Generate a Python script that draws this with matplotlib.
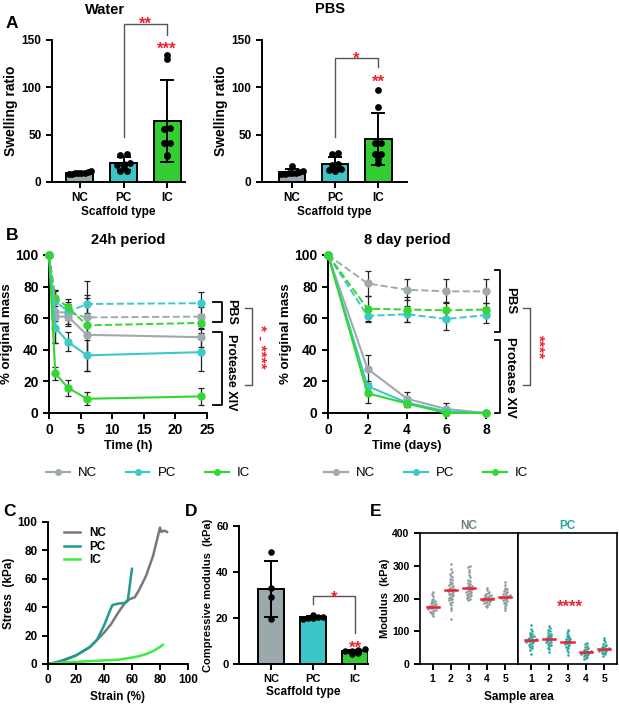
import numpy as np
import matplotlib
matplotlib.use("Agg")
import matplotlib.pyplot as plt
from matplotlib.lines import Line2D

plt.rcParams['font.family'] = ['Liberation Sans', 'DejaVu Sans']
plt.rcParams['font.weight'] = 'bold'
plt.rcParams['axes.labelweight'] = 'bold'
plt.rcParams['axes.titleweight'] = 'bold'
plt.rcParams['axes.linewidth'] = 1.4
plt.rcParams['xtick.major.width'] = 1.4
plt.rcParams['ytick.major.width'] = 1.4
plt.rcParams['xtick.major.size'] = 4
plt.rcParams['ytick.major.size'] = 4
plt.rcParams['xtick.labelsize'] = 8.5
plt.rcParams['ytick.labelsize'] = 8.5

# ---------------- data ----------------
groups = ['NC', 'PC', 'IC']

# A: swelling ratio (individual samples)
water_nc = [12, 11, 10, 10, 9, 9, 8, 8]
water_pc = [30, 29, 20, 19, 18, 17, 12, 12]
water_ic = [134, 130, 57, 56, 41, 41, 28, 27]
pbs_nc = [17, 12, 11, 10, 9, 9, 8, 8]
pbs_pc = [31, 30, 19, 18, 14, 13, 12, 14]
pbs_ic = [97, 79, 41, 41, 30, 30, 24, 20]

# B: mass loss, 24 h
t_24h = [0, 1, 3, 6, 24]
pbs24_nc = [100, 64, 63.5, 60.5, 61]
pbs24_pc = [100, 71, 64, 69, 69.5]
pbs24_ic = [100, 73, 67, 55.5, 57]
pro24_nc = [100, 61, 61, 49.5, 48]
pro24_pc = [100, 54, 45, 36.5, 38.5]
pro24_ic = [100, 25, 16, 9, 10.5]
pbs24_nc_err = [0, 6, 7, 23, 6]
pbs24_pc_err = [0, 6, 5, 6, 7]
pbs24_ic_err = [0, 5, 5, 4, 4]
pro24_nc_err = [0, 17, 6, 23, 6]
pro24_pc_err = [0, 10, 6, 10, 12]
pro24_ic_err = [0, 4, 5, 4, 5.5]

# B: mass loss, 8 days
t_8d = [0, 2, 4, 6, 8]
pbs8_nc = [100, 82, 78, 77, 77]
pbs8_pc = [100, 61.5, 62.5, 59.5, 62]
pbs8_ic = [100, 66, 65.5, 65, 65.5]
pro8_nc = [100, 28, 9, 2.5, 0]
pro8_pc = [100, 17, 6.5, 1, 0]
pro8_ic = [100, 12.5, 6, 0, 0]
pbs8_nc_err = [0, 8, 6.5, 7.5, 7.5]
pbs8_pc_err = [0, 4, 5, 7, 5]
pbs8_ic_err = [0, 8, 8, 5, 4]
pro8_nc_err = [0, 9, 4.5, 4, 0]
pro8_pc_err = [0, 3, 2, 1, 0]
pro8_ic_err = [0, 6, 2, 0.5, 0]

# C: stress-strain curves
strain_nc = [0, 5, 10, 20, 30, 40, 45, 50, 55, 58, 62, 65, 70, 75, 80, 81, 83, 85]
stress_nc = [0, 1, 2.5, 6, 12, 22, 28, 36, 43, 45.5, 47, 52, 62, 76, 96, 93, 94, 93]
strain_pc = [0, 5, 10, 20, 30, 35, 40, 44, 46, 50, 55, 57, 58, 59, 60]
stress_pc = [0, 0.8, 2, 6, 12, 17, 27, 37, 41.5, 42.5, 43, 45, 52, 60, 67]
strain_ic = [0, 10, 20, 30, 40, 50, 60, 65, 70, 75, 80, 82]
stress_ic = [0, 1, 1.5, 2, 2.5, 3, 4.5, 5.5, 7, 9, 12, 13.5]

# D: compressive modulus
mod_nc = [48.5, 33, 29, 19.5]
mod_pc = [21.5, 20.5, 20.5, 20, 20, 19.5]
mod_ic = [6.5, 6, 5.5, 5.5, 5, 4.5]

# E: local modulus per sample area
areas = [1, 2, 3, 4, 5]
e_nc = [
    [148, 152, 155, 158, 160, 162, 165, 166, 168, 170, 171, 172, 173, 174, 175, 175,
     176, 177, 178, 180, 182, 184, 186, 188, 190, 193, 196, 200, 208, 215, 220],
    [137, 165, 172, 180, 185, 190, 195, 198, 200, 203, 206, 208, 210, 213, 215, 218, 220,
     222, 224, 225, 226, 228, 230, 232, 235, 238, 240, 243, 246, 250, 255, 260, 265, 270,
     275, 280, 290, 305],
    [195, 200, 203, 206, 208, 210, 212, 215, 217, 219, 221, 223, 225, 227, 229, 231, 232,
     233, 235, 237, 239, 242, 245, 248, 252, 258, 265, 272, 280, 288, 295, 300],
    [175, 178, 181, 184, 186, 188, 190, 192, 193, 194, 195, 196, 197, 198, 199, 200, 200,
     201, 202, 203, 204, 205, 206, 208, 210, 212, 214, 217, 220, 225, 232],
    [165, 172, 178, 183, 187, 190, 193, 195, 197, 199, 201, 203, 204, 205, 206, 207, 209,
     211, 213, 215, 217, 219, 222, 225, 228, 232, 240, 250],
]
e_pc = [
    [30, 42, 48, 52, 56, 59, 62, 64, 66, 68, 69, 70, 71, 72, 73, 74, 75, 77, 79, 81, 83,
     85, 88, 91, 95, 100, 108, 118],
    [36, 45, 50, 55, 58, 61, 64, 66, 68, 70, 72, 74, 75, 76, 78, 80, 82, 84, 87, 90, 93,
     96, 100, 105, 110, 115],
    [26, 38, 44, 48, 52, 55, 58, 61, 63, 65, 67, 68, 69, 71, 73, 75, 77, 80, 83, 86, 90,
     95, 100, 105],
    [16, 19, 22, 24, 26, 28, 30, 32, 33, 34, 35, 36, 37, 38, 40, 42, 44, 46, 49, 52, 56,
     60, 65],
    [25, 30, 33, 35, 37, 39, 41, 42, 43, 44, 45, 46, 47, 49, 51, 53, 55, 58, 62, 66, 72, 80],
]

# ---------------- style ----------------
c_nc, c_pc, c_ic = '#9BA9AC', '#3CC5C6', '#33CC33'
bar_cols = [c_nc, c_pc, c_ic]
red = '#EE2233'

W, H = 619, 705
fig = plt.figure(figsize=(W / 100, H / 100), dpi=100)


def px_axes(l, t, r, b):
    return fig.add_axes([l / W, 1 - b / H, (r - l) / W, (b - t) / H])


def swarm_x(vals, center, binw, step, maxhalf):
    # spread points sharing a value bin symmetrically around the center
    vals = np.asarray(vals, dtype=float)
    xs = np.full(len(vals), float(center))
    bins = np.round(vals / binw).astype(int)
    for b in np.unique(bins):
        idx = np.where(bins == b)[0]
        idx = idx[np.argsort(vals[idx])]
        n = len(idx)
        st = step if n < 2 else min(step, 2 * maxhalf / (n - 1))
        xs[idx] = center + (np.arange(n) - (n - 1) / 2) * st
    return xs


def clean(ax):
    ax.spines['top'].set_visible(False)
    ax.spines['right'].set_visible(False)


def bar_panel(ax, data, binw, step=0.14, width=0.62, ms=24):
    for i, vals in enumerate(data):
        m = np.mean(vals)
        s = np.std(vals, ddof=1)
        ax.bar(i, m, width=width, color=bar_cols[i], edgecolor='black', linewidth=1.4, zorder=1)
        ax.scatter(swarm_x(vals, i, binw, step, width * 0.4), vals, s=ms, color='black',
                   zorder=3, linewidths=0, clip_on=False)
        ax.errorbar(i, m, yerr=s, color='black', capsize=5, elinewidth=1.4, capthick=1.4, zorder=4)
    ax.set_xticks(range(len(data)))
    ax.set_xticklabels(groups)
    clean(ax)


# ---------------- A ----------------
axw = px_axes(52, 40, 185, 182)
bar_panel(axw, [water_nc, water_pc, water_ic], binw=5)
axw.set_xlim(-0.64, 2.41)
axw.set_ylim(0, 150)
axw.set_yticks([0, 50, 100, 150])
axw.set_ylabel('Swelling ratio', fontsize=10, labelpad=3)
axw.set_xlabel('Scaffold type', fontsize=8.5, labelpad=1)
axw.plot([1, 1, 2, 2], [48, 167, 167, 155], color='#555555', lw=1, clip_on=False)
axw.text(1.5, 161.5, '**', color=red, fontsize=12, ha='center', va='baseline')
axw.text(2, 135, '***', color=red, fontsize=12, ha='center', va='baseline')
fig.text(105 / W, 1 - 10 / H, 'Water', fontsize=10.5, ha='center', va='center', weight='bold')

axp = px_axes(262, 40, 407, 182)
bar_panel(axp, [pbs_nc, pbs_pc, pbs_ic], binw=5)
axp.set_xlim(-0.7, 2.67)
axp.set_ylim(0, 150)
axp.set_yticks([0, 50, 100, 150])
axp.set_ylabel('Swelling ratio', fontsize=10, labelpad=3)
axp.set_xlabel('Scaffold type', fontsize=8.5, labelpad=1)
axp.plot([1, 1, 2, 2], [48, 131, 131, 121], color='#555555', lw=1, clip_on=False)
axp.text(1.5, 125, '*', color=red, fontsize=12, ha='center', va='baseline')
axp.text(2, 100.7, '**', color=red, fontsize=12, ha='center', va='baseline')
fig.text(330 / W, 1 - 9 / H, 'PBS', fontsize=10.5, ha='center', va='center', weight='bold')

# ---------------- B ----------------
line_cols = ['#A0AAAE', '#40C8C8', '#33D633']


def mass_panel(ax, t, pbs, pbs_err, pro, pro_err):
    for y, e, c in zip(pbs, pbs_err, line_cols):
        ax.errorbar(t, y, yerr=e, color=c, ls='--', lw=1.4, marker='o', ms=5,
                    ecolor='#222222', elinewidth=0.9, capsize=2.5, capthick=0.9, clip_on=False, zorder=3)
    for y, e, c in zip(pro, pro_err, line_cols):
        ax.errorbar(t, y, yerr=e, color=c, ls='-', lw=1.5, marker='o', ms=5,
                    ecolor='#222222', elinewidth=0.9, capsize=2.5, capthick=0.9, clip_on=False, zorder=3)
    ax.set_ylim(0, 100)
    ax.set_yticks([0, 20, 40, 60, 80, 100])
    ax.tick_params(labelsize=10)
    ax.set_ylabel('% original mass', fontsize=9.5, labelpad=2)
    clean(ax)


def bracket(ax, x0, x1, y0, y1, lw=1.3, color='black'):
    tr = ax.get_yaxis_transform()
    ax.plot([x0, x1, x1, x0], [y0, y0, y1, y1], color=color, lw=lw, transform=tr, clip_on=False)


axb1 = px_axes(49, 255, 207, 413)
mass_panel(axb1, t_24h, [pbs24_nc, pbs24_pc, pbs24_ic], [pbs24_nc_err, pbs24_pc_err, pbs24_ic_err],
           [pro24_nc, pro24_pc, pro24_ic], [pro24_nc_err, pro24_pc_err, pro24_ic_err])
axb1.set_xlim(0, 25)
axb1.set_xticks([0, 5, 10, 15, 20, 25])
axb1.set_xlabel('Time (h)', fontsize=9, labelpad=2)
axb1.set_title('24h period', fontsize=10.5, pad=8)
bracket(axb1, 1.04, 1.095, 70.5, 57.5)
bracket(axb1, 1.04, 1.095, 51, 4.8)
axb1.text(1.155, 64, 'PBS', rotation=-90, fontsize=9, ha='center', va='center', transform=axb1.get_yaxis_transform())
axb1.text(1.155, 25.5, 'Protease XIV', rotation=-90, fontsize=9, ha='center', va='center',
          transform=axb1.get_yaxis_transform())
bracket(axb1, 1.24, 1.285, 66.7, 17.5, lw=1, color='#555555')
axb1.text(1.335, 42, '* - ****', rotation=-90, fontsize=11, color=red, ha='center', va='center',
          transform=axb1.get_yaxis_transform())

axb2 = px_axes(328, 255, 486, 413)
mass_panel(axb2, t_8d, [pbs8_nc, pbs8_pc, pbs8_ic], [pbs8_nc_err, pbs8_pc_err, pbs8_ic_err],
           [pro8_nc, pro8_pc, pro8_ic], [pro8_nc_err, pro8_pc_err, pro8_ic_err])
axb2.set_xlim(0, 8)
axb2.set_xticks([0, 2, 4, 6, 8])
axb2.set_xlabel('Time (days)', fontsize=9, labelpad=2)
axb2.set_title('8 day period', fontsize=10.5, pad=8)
bracket(axb2, 1.06, 1.09, 90.5, 51)
bracket(axb2, 1.06, 1.09, 46, 0)
axb2.text(1.15, 70.9, 'PBS', rotation=-90, fontsize=9.5, ha='center', va='center', transform=axb2.get_yaxis_transform())
axb2.text(1.15, 22.8, 'Protease XIV', rotation=-90, fontsize=9.5, ha='center', va='center',
          transform=axb2.get_yaxis_transform())
bracket(axb2, 1.235, 1.28, 66.7, 17.5, lw=1, color='#555555')
axb2.text(1.335, 42, '****', rotation=-90, fontsize=11, color=red, ha='center', va='center',
          transform=axb2.get_yaxis_transform())

handles = [Line2D([0], [0], color=c, marker='o', ms=4, lw=1.6) for c in line_cols]
for x0 in (0.055, 0.505):
    fig.legend(handles, groups, loc='center left', bbox_to_anchor=(x0, 1 - 473 / H), ncol=3,
               frameon=False, prop={'weight': 'normal', 'size': 9.5}, handlelength=1.8,
               columnspacing=2.2, handletextpad=0.6)

# ---------------- C ----------------
axc = px_axes(48, 522, 188, 664)
axc.plot(strain_nc, stress_nc, color='#737A7B', lw=1.8, label='NC')
axc.plot(strain_pc, stress_pc, color='#1F9A8E', lw=1.8, label='PC')
axc.plot(strain_ic, stress_ic, color='#3EEB3E', lw=1.8, label='IC')
axc.set_xlim(0, 100)
axc.set_ylim(0, 100)
axc.set_xticks([0, 20, 40, 60, 80, 100])
axc.set_yticks([0, 20, 40, 60, 80, 100])
axc.set_xlabel('Strain (%)', fontsize=8.5, labelpad=3)
axc.set_ylabel('Stress  (kPa)', fontsize=8.5, labelpad=2)
axc.legend(loc='upper left', bbox_to_anchor=(0.04, 1.04), frameon=False, prop={'weight': 'bold', 'size': 8.5},
           handlelength=1.3, labelspacing=0.15, handletextpad=0.8)
clean(axc)

# ---------------- D ----------------
axd = px_axes(239, 526, 368, 664)
bar_panel(axd, [mod_nc, mod_pc, mod_ic], binw=2, step=0.16, width=0.6, ms=22)
axd.set_xlim(-0.76, 2.31)
axd.set_ylim(0, 60)
axd.set_yticks([0, 20, 40, 60])
axd.tick_params(labelsize=8)
axd.set_ylabel('Compressive modulus  (kPa)', fontsize=8, labelpad=2)
axd.set_xlabel('Scaffold type', fontsize=8.5, labelpad=1)
axd.plot([1, 1, 2, 2], [26, 29.6, 29.6, 13.6], color='#555555', lw=1, clip_on=False)
axd.text(1.5, 26.8, '*', color=red, fontsize=12, ha='center', va='baseline')
axd.text(2, 4.8, '**', color=red, fontsize=12, ha='center', va='baseline')

# ---------------- E ----------------
axe1 = px_axes(420, 533, 518, 664)
axe2 = px_axes(518, 533, 617, 664)
for ax, groupvals, col, name, ncol in ((axe1, e_nc, '#8D9C9C', 'NC', '#6F8383'),
                                        (axe2, e_pc, '#2AA59E', 'PC', '#2AA59E')):
    for a, vals in zip(areas, groupvals):
        ax.scatter(swarm_x(vals, a, 9, 0.08, 0.3), vals, s=3.5, color=col, linewidths=0, zorder=2)
        med = np.median(vals)
        ax.plot([a - 0.33, a + 0.33], [med, med], color=red, lw=1.8, zorder=3)
    ax.set_xlim(0.3, 5.7)
    ax.set_ylim(0, 400)
    ax.set_xticks(areas)
    ax.tick_params(labelsize=7.5)
    ax.set_title(name, fontsize=8.5, color=ncol, pad=3)
    for sp in ax.spines.values():
        sp.set_linewidth(1.2)
axe1.set_yticks([0, 100, 200, 300, 400])
axe1.set_ylabel('Modulus  (kPa)', fontsize=8, labelpad=2)
axe2.tick_params(axis='y', left=False, labelleft=False)
axe2.text(3.15, 174, '****', color=red, fontsize=12, ha='center', va='center')
fig.text(519 / W, 1 - 697 / H, 'Sample area', fontsize=8.5, ha='center', va='center')

# ---------------- panel letters ----------------
for lab, x, y in (('A', 12, 23), ('B', 12, 236), ('C', 10, 512), ('D', 191, 512), ('E', 376, 512)):
    fig.text(x / W, 1 - y / H, lab, fontsize=12.5, ha='center', va='center')

fig.savefig('out.png', dpi=100)
